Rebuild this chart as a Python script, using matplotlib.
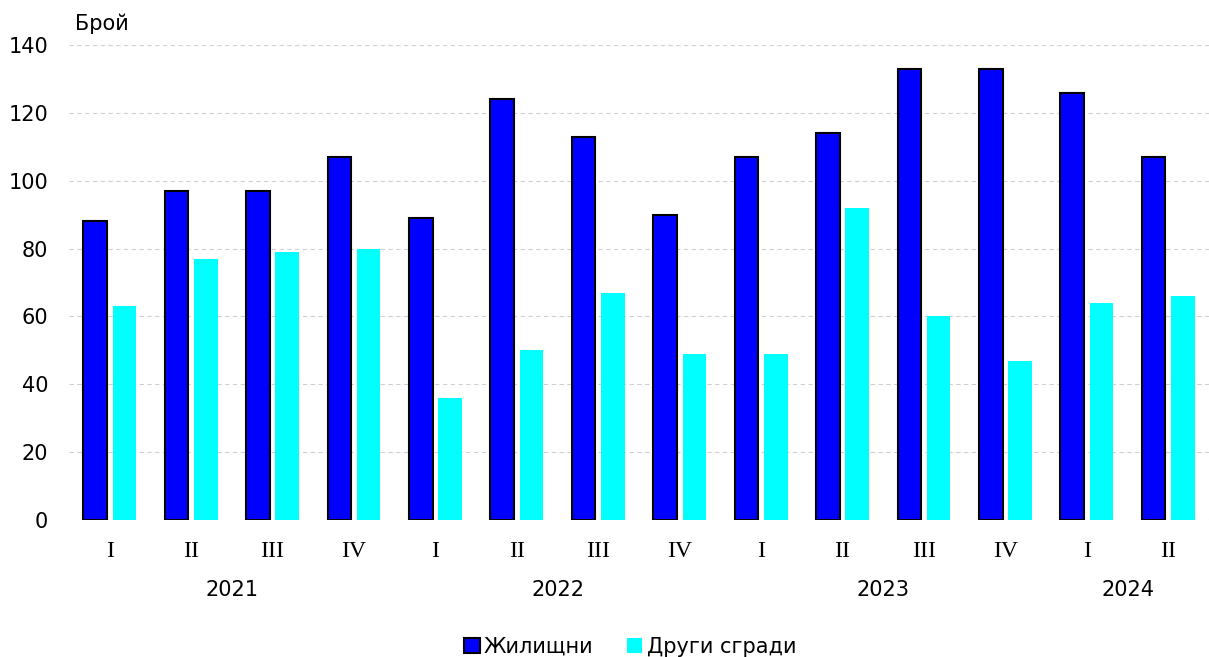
import numpy as np
import matplotlib.pyplot as plt
from matplotlib.patches import Patch

quarters = ["I", "II", "III", "IV", "I", "II", "III", "IV", "I", "II", "III", "IV", "I", "II"]
years = ["2021", "2022", "2023", "2024"]
year_centers = [1.5, 5.5, 9.5, 12.5]
residential = [88, 97, 97, 107, 89, 124, 113, 90, 107, 114, 133, 133, 126, 107]
other = [63, 77, 79, 80, 36, 50, 67, 49, 49, 92, 60, 47, 64, 66]

plt.rcParams['font.family'] = ['DejaVu Sans']
plt.rcParams['font.size'] = 15

fig = plt.figure(figsize=(12.09, 6.57), dpi=100)
ax = fig.add_axes([69 / 1209, 137 / 657, 1140 / 1209, 475 / 657])

x = np.arange(len(quarters))
w = 0.29
ax.bar(x - 0.18, residential, width=w, color='#0000ff', edgecolor='black', linewidth=1.5, zorder=3)
ax.bar(x + 0.18, other, width=w, color='#00ffff', zorder=3)

ax.set_xlim(-0.5, len(quarters) - 0.5)
ax.set_ylim(0, 140)
ax.set_yticks(range(0, 141, 20))
ax.yaxis.grid(True, linestyle=(0, (4, 3)), color='#d0d0d0', linewidth=0.8, zorder=0)
ax.tick_params(axis='y', length=0, pad=15, labelsize=15)
ax.tick_params(axis='x', length=0, pad=15)
ax.set_xticks(x)
ax.set_xticklabels(quarters, family='Liberation Serif', fontsize=17)
for s in ax.spines.values():
    s.set_visible(False)

for yc, yr in zip(year_centers, years):
    ax.text(yc, -20.5, yr, ha='center', va='center', fontsize=15)

ax.text(0.005, 1.045, "Брой", transform=ax.transAxes, ha='left', va='center', fontsize=15)

handles = [Patch(facecolor='#0000ff', edgecolor='black', linewidth=1.5, label='Жилищни'),
           Patch(facecolor='#00ffff', label='Други сгради')]
fig.legend(handles=handles, loc='center', bbox_to_anchor=(630 / 1209, 1 - 647 / 657), ncol=2,
           frameon=False, fontsize=15, handlelength=0.75, handleheight=0.75,
           handletextpad=0.2, columnspacing=1.6)

fig.savefig('out.png', dpi=100)
